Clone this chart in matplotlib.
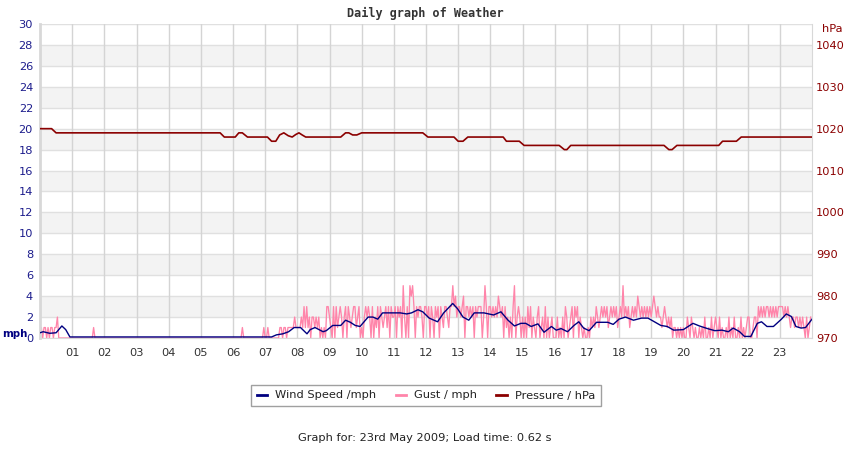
"""
Daily weather graph: wind speed, gusts (mph, left axis) and pressure (hPa, right axis).
"""

import matplotlib
matplotlib.use("Agg")
import matplotlib.pyplot as plt
from matplotlib.lines import Line2D

# gusts every 2.5 minutes, one string of 24 readings per hour (mph)
GUST_BY_HOUR = [
    "110110101101120000000000", "000000000000000010000000",
    "000000000000000000000000", "000000000000000000000000",
    "000000000000000000000000", "000000000000000000000000",
    "000000010000000000000001", "001000000001101101111121",
    "111213131202212120101033", "210303123202303212331230",
    "102323203021303212313032", "230323052030545303233203",
    "323032032303213321335342", "332340332323032333025303",
    "323232432303120203502320", "202031302102301203020120",
    "002010203201230323021010", "010212132123232312323231",
    "232523231232324323232323", "234323221232121201101010",
    "100210210100101020010201", "210201001020102001020101",
    "220012203232323323232323", "333232321221221212102012",
]

WIND_HOURS = [0.0, 0.1, 0.3, 0.5, 0.68, 0.8, 0.93, 7.2, 7.35, 7.55, 7.73, 7.9, 8.1,
              8.3, 8.4, 8.55, 8.8, 8.9, 9.1, 9.35, 9.5, 9.65, 9.8, 9.95, 10.2, 10.35,
              10.5, 10.65, 11.2, 11.4, 11.55, 11.75, 11.9, 12.1, 12.36, 12.55, 12.83,
              12.98, 13.15, 13.33, 13.5, 13.8, 14.1, 14.33, 14.55, 14.75, 14.95, 15.1,
              15.27, 15.48, 15.67, 15.9, 16.05, 16.2, 16.4, 16.6, 16.75, 16.9, 17.07,
              17.3, 17.65, 17.82, 18.0, 18.2, 18.45, 18.7, 18.9, 19.1, 19.3, 19.5,
              19.7, 20.0, 20.3, 20.5, 20.75, 20.98, 21.2, 21.4, 21.55, 21.75, 21.9,
              22.1, 22.3, 22.43, 22.6, 22.8, 23.05, 23.2, 23.36, 23.5, 23.66, 23.8, 24.0]
WIND_MPH = [0.5, 0.6, 0.45, 0.5, 1.15, 0.8, 0.1, 0.1, 0.3, 0.4, 0.6, 1.0, 1.0,
            0.4, 0.8, 1.0, 0.6, 0.7, 1.2, 1.2, 1.7, 1.5, 1.2, 1.1, 2.0, 2.0,
            1.8, 2.4, 2.4, 2.3, 2.4, 2.7, 2.5, 1.9, 1.55, 2.4, 3.3,
            2.8, 2.0, 1.7, 2.4, 2.4, 2.2, 2.5, 1.7, 1.15, 1.4, 1.4,
            1.1, 1.35, 0.55, 1.1, 0.75, 0.9, 0.6, 1.2, 1.55, 0.95, 0.7,
            1.5, 1.5, 1.3, 1.8, 2.0, 1.7, 1.9, 1.9, 1.55, 1.2, 1.1,
            0.75, 0.8, 1.4, 1.15, 0.9, 0.7, 0.75, 0.6, 0.95, 0.6, 0.15,
            0.15, 1.4, 1.55, 1.1, 1.1, 1.8, 2.3, 2.05, 1.1, 0.95, 1.0, 1.8]

PRESS_HOURS = [0.0, 0.36, 0.5, 5.6, 5.73, 6.07, 6.18, 6.29, 6.45, 7.07, 7.2, 7.33,
               7.45, 7.58, 7.72, 7.84, 7.95, 8.05, 8.15, 8.26, 9.35, 9.5, 9.6, 9.72,
               9.85, 10.0, 11.9, 12.06, 12.87, 13.0, 13.15, 13.3, 14.4, 14.5, 14.9,
               15.05, 16.14, 16.3, 16.38, 16.5, 19.4, 19.55, 19.65, 19.8, 21.1, 21.22,
               21.65, 21.8, 24.0]
PRESS_HPA = [1020, 1020, 1019, 1019, 1018, 1018, 1019, 1019, 1018, 1018, 1017, 1017,
             1018.5, 1019, 1018.3, 1018, 1018.6, 1019, 1018.5, 1018, 1018, 1019, 1019,
             1018.5, 1018.5, 1019, 1019, 1018, 1018, 1017, 1017, 1018, 1018, 1017, 1017,
             1016, 1016, 1015, 1015, 1016, 1016, 1015, 1015, 1016, 1016, 1017,
             1017, 1018, 1018]

HOUR_LABELS = [f"{h:02d}" for h in range(1, 24)]
MPH_TICKS = list(range(0, 31, 2))
HPA_TICKS = list(range(970, 1041, 10))

WIND_COL = "#000080"
GUST_COL = "#ff85aa"
PRESS_COL = "#8b0000"
GRID_COL = "#d4d4d4"
FONT = 8.2


def main():
    gust_t, gust_v = [], []
    for h, row in enumerate(GUST_BY_HOUR):
        for i, ch in enumerate(row):
            gust_t.append(h + i / len(row))
            gust_v.append(int(ch))

    fig = plt.figure(figsize=(8.5, 4.5), dpi=100)
    ax = fig.add_axes([40 / 850, 1 - 338 / 450, 772 / 850, 314 / 450])

    # alternating bands and grid
    for lo in range(2, 30, 4):
        ax.axhspan(lo, lo + 2, color="#f3f3f3", zorder=0, lw=0)
    for y in MPH_TICKS:
        ax.axhline(y, color="#e0e0e0", lw=1, zorder=0.5)
    for h in range(1, 24):
        ax.axvline(h, color=GRID_COL, lw=1, zorder=0.6)

    ax.plot(gust_t, gust_v, color=GUST_COL, lw=0.95, zorder=2)
    ax.plot(WIND_HOURS, WIND_MPH, color=WIND_COL, lw=1.0, zorder=3)

    ax.set_xlim(0, 24)
    ax.set_ylim(0, 30)
    ax.set_yticks(MPH_TICKS)
    ax.set_xticks(range(1, 24))
    ax.set_xticklabels(HOUR_LABELS)
    ax.tick_params(axis="x", length=0, pad=7, labelsize=FONT, labelcolor="#333333")
    ax.tick_params(axis="y", length=0, pad=5, labelsize=FONT, labelcolor="#1c1c8c")
    for side in ("top", "right"):
        ax.spines[side].set_visible(False)
    ax.spines["left"].set_color("#d8d8d8")
    ax.spines["left"].set_linewidth(2)
    ax.spines["bottom"].set_color("#d8d8d8")

    ax2 = ax.twinx()
    ax2.plot(PRESS_HOURS, PRESS_HPA, color=PRESS_COL, lw=1.2, zorder=4)
    ax2.set_ylim(970, 1045)
    ax2.set_yticks(HPA_TICKS)
    ax2.tick_params(axis="y", length=0, pad=3, labelsize=FONT, labelcolor=PRESS_COL)
    for side in ("top", "left", "bottom"):
        ax2.spines[side].set_visible(False)
    ax2.spines["right"].set_color("#d8d8d8")

    fig.text(425 / 850, 1 - 13 / 450, "Daily graph of Weather", ha="center", va="center",
             family="DejaVu Sans Mono", weight="bold", fontsize=8.5, color="#333333")
    fig.text(2 / 850, 1 - 334 / 450, "mph", ha="left", va="center",
             weight="bold", fontsize=7.4, color=WIND_COL)
    fig.text(822 / 850, 1 - 29 / 450, "hPa", ha="left", va="center",
             fontsize=FONT, color=PRESS_COL)

    handles = [
        Line2D([], [], color=WIND_COL, lw=2),
        Line2D([], [], color=GUST_COL, lw=2),
        Line2D([], [], color=PRESS_COL, lw=2),
    ]
    leg = fig.legend(handles, ["Wind Speed /mph", "Gust / mph", "Pressure / hPa"],
                     loc="center", bbox_to_anchor=(426 / 850, 1 - 395.5 / 450), ncol=3,
                     fontsize=FONT, frameon=True, fancybox=False, handlelength=0.9,
                     handletextpad=0.7, columnspacing=1.7, borderpad=0.5)
    leg.get_frame().set_edgecolor("#888888")
    leg.get_frame().set_linewidth(1)
    for t in leg.get_texts():
        t.set_color("#222222")

    fig.text(0.5, 1 - 438 / 450, "Graph for: 23rd May 2009; Load time: 0.62 s",
             ha="center", va="center", fontsize=FONT, color="#222222")

    fig.savefig("out.png", dpi=100)


if __name__ == "__main__":
    main()
